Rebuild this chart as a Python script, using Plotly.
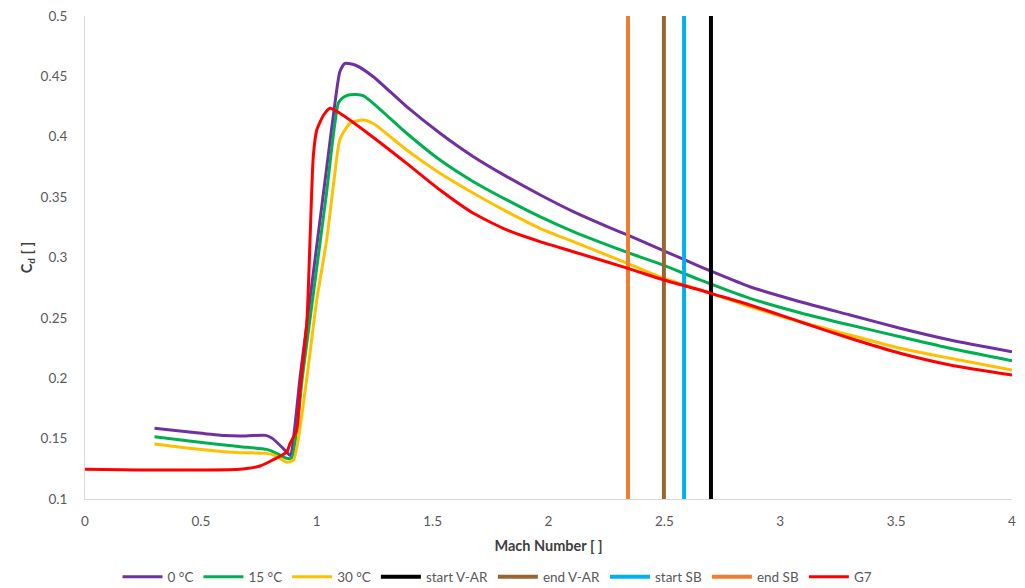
import plotly.graph_objects as go

# ---- data ----
mach_0c = [0.30, 0.45, 0.60, 0.67, 0.78, 0.81, 0.87, 0.885, 0.93, 0.985, 1.04, 1.08, 1.10, 1.122, 1.17, 1.244, 1.388, 1.532, 1.676, 1.82, 1.963, 2.107, 2.251, 2.343, 2.498, 2.654, 2.701, 2.869, 3.085, 3.301, 3.517, 3.733, 4.0]
cd_0c = [0.1586, 0.1555, 0.1525, 0.1521, 0.1527, 0.1500, 0.1390, 0.1360, 0.2040, 0.2870, 0.3700, 0.4300, 0.4540, 0.4608, 0.4590, 0.4497, 0.4249, 0.4029, 0.3835, 0.3670, 0.3520, 0.3380, 0.3258, 0.3185, 0.3055, 0.2925, 0.2887, 0.2758, 0.2634, 0.2524, 0.2414, 0.2317, 0.2220]

mach_15c = [0.30, 0.45, 0.60, 0.67, 0.784, 0.82, 0.87, 0.892, 0.94, 0.99, 1.04, 1.093, 1.11, 1.136, 1.172, 1.20, 1.244, 1.388, 1.532, 1.676, 1.82, 1.963, 2.107, 2.343, 2.498, 2.654, 2.869, 3.085, 3.301, 3.517, 3.733, 4.0]
cd_15c = [0.1516, 0.1480, 0.1448, 0.1433, 0.1411, 0.1385, 0.1337, 0.1340, 0.2040, 0.2770, 0.3500, 0.4277, 0.4320, 0.4346, 0.4350, 0.4340, 0.4277, 0.4029, 0.3807, 0.3628, 0.3477, 0.3338, 0.3214, 0.3040, 0.2935, 0.2814, 0.2662, 0.2543, 0.2441, 0.2344, 0.2248, 0.2145]

mach_30c = [0.30, 0.45, 0.60, 0.67, 0.784, 0.82, 0.87, 0.899, 0.95, 1.00, 1.043, 1.075, 1.10, 1.143, 1.20, 1.244, 1.388, 1.532, 1.676, 1.82, 1.963, 2.107, 2.343, 2.498, 2.654, 2.701, 2.869, 3.085, 3.301, 3.517, 3.733, 4.0]
cd_30c = [0.1455, 0.1420, 0.1392, 0.1384, 0.1378, 0.1360, 0.1305, 0.1320, 0.1900, 0.2650, 0.3150, 0.3650, 0.3980, 0.4110, 0.4139, 0.4110, 0.3890, 0.3697, 0.3532, 0.3380, 0.3242, 0.3131, 0.2950, 0.2828, 0.2731, 0.2703, 0.2593, 0.2468, 0.2358, 0.2248, 0.2165, 0.2068]

mach_g7 = [0.0, 0.237, 0.50, 0.669, 0.755, 0.81, 0.87, 0.885, 0.913, 0.928, 0.957, 0.971, 0.985, 1.0, 1.03, 1.057, 1.10, 1.23, 1.388, 1.532, 1.676, 1.82, 1.963, 2.107, 2.343, 2.498, 2.654, 2.701, 2.869, 3.085, 3.301, 3.517, 3.733, 4.0]
cd_g7 = [0.1246, 0.1240, 0.1240, 0.1246, 0.1273, 0.1323, 0.1390, 0.1460, 0.1570, 0.1900, 0.2455, 0.3145, 0.3835, 0.4056, 0.4180, 0.4236, 0.4194, 0.4015, 0.3780, 0.3559, 0.3366, 0.3228, 0.3131, 0.3048, 0.2910, 0.2814, 0.2731, 0.2703, 0.2607, 0.2468, 0.2331, 0.2207, 0.2110, 0.2027]

marker_names = ["start V-AR", "end V-AR", "start SB", "end SB"]
marker_mach = [2.701, 2.498, 2.585, 2.343]
cd_span = [0.1, 0.5]

x_ticks = [0, 0.5, 1, 1.5, 2, 2.5, 3, 3.5, 4]
y_ticks = [0.1, 0.15, 0.2, 0.25, 0.3, 0.35, 0.4, 0.45, 0.5]

# ---- styles ----
curve_colors = {"0 °C": "#7030A0", "15 °C": "#00B050", "30 °C": "#FFC000", "G7": "#FF0000"}
marker_colors = {"start V-AR": "#000000", "end V-AR": "#996633", "start SB": "#00B0F0", "end SB": "#ED7D31"}

fig = go.Figure()

def add_curve(name, x, y):
    fig.add_trace(go.Scatter(x=x, y=y, mode="lines", name=name,
                             line=dict(color=curve_colors[name], width=3, shape="spline", smoothing=0.6)))

add_curve("0 °C", mach_0c, cd_0c)
add_curve("15 °C", mach_15c, cd_15c)
add_curve("30 °C", mach_30c, cd_30c)
for n, m in zip(marker_names, marker_mach):
    fig.add_trace(go.Scatter(x=[m, m], y=cd_span, mode="lines", name=n,
                             line=dict(color=marker_colors[n], width=4)))
add_curve("G7", mach_g7, cd_g7)

font_family = "Lato, 'Open Sans', sans-serif"
fig.update_layout(
    width=1025, height=588,
    margin=dict(l=85, r=13, t=16, b=89, autoexpand=False),
    paper_bgcolor="white", plot_bgcolor="white",
    font=dict(family=font_family, size=13, color="#595959"),
    showlegend=True,
    legend=dict(orientation="h", x=0.445, xanchor="center", y=-0.1615, yanchor="middle",
                font=dict(size=13.5, color="#595959"), itemwidth=40, tracegroupgap=0),
)
fig.update_xaxes(range=[0, 4], tickvals=x_ticks, ticktext=[f"{v:g}" for v in x_ticks],
                 showgrid=False, zeroline=False, showline=True, linecolor="#D9D9D9", linewidth=1,
                 ticks="", ticklabelstandoff=10, automargin=False,
                 tickfont=dict(size=13.5),
                 title=dict(text="<b>Mach Number [ ]</b>", font=dict(size=14.5, color="#404040"), standoff=12))
fig.update_yaxes(range=[0.1, 0.5], tickvals=y_ticks, ticktext=[f"{v:g}" for v in y_ticks],
                 showgrid=False, zeroline=False, showline=True, linecolor="#D9D9D9", linewidth=1,
                 ticks="", ticklabelstandoff=14, automargin=False,
                 tickfont=dict(size=13.5),
                 title=dict(text="<b>C<sub>d</sub> [ ]</b>", font=dict(size=14.5, color="#404040"), standoff=4))

fig.write_html("out.html")
